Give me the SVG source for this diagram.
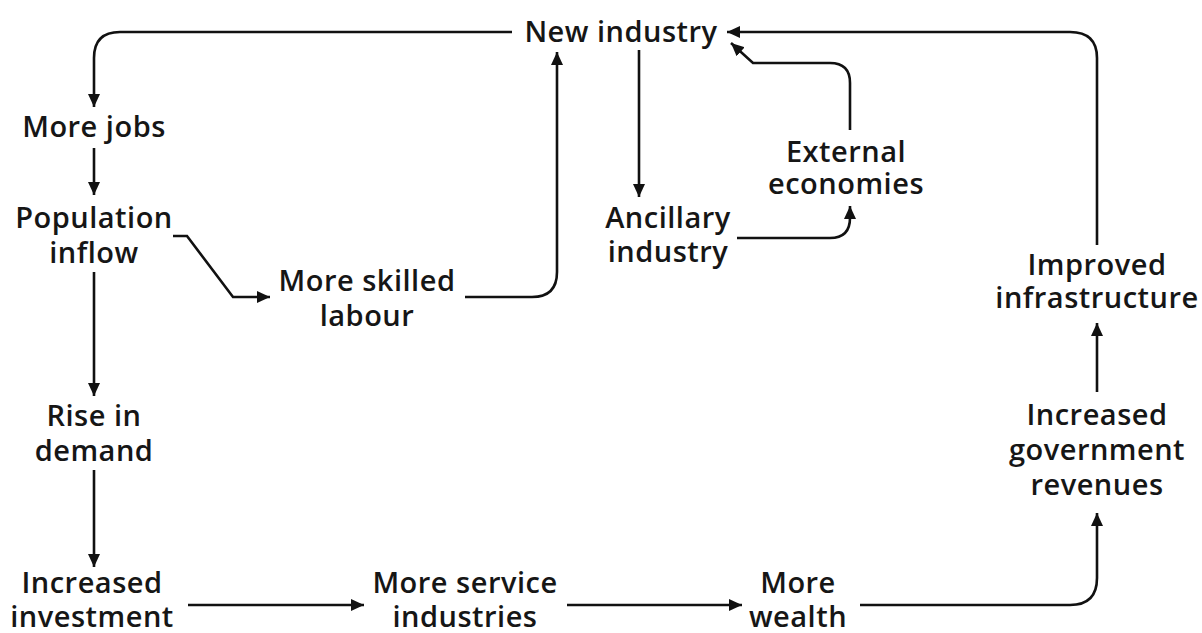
<svg xmlns="http://www.w3.org/2000/svg" width="1202" height="633" viewBox="0 0 1202 633">
<style>
text{font-family:"Open Sans","Noto Sans",sans-serif;font-size:29px;font-weight:600;letter-spacing:0.5px;fill:#161616;text-anchor:middle}
.c{fill:none;stroke:#111;stroke-width:2.6;marker-end:url(#ah)}
</style>
<defs>
<marker id="ah" markerUnits="userSpaceOnUse" markerWidth="14" markerHeight="12" refX="13" refY="6" orient="auto">
<path d="M0,0 L13,6 L0,12 z" fill="#111"/>
</marker>
</defs>
<rect width="1202" height="633" fill="#fff"/>
<g id="connectors">
<path class="c" d="M512,32 H120 Q94,32 94,58 V107"/>
<path class="c" d="M94,148 V195"/>
<path class="c" d="M173,236 H187 L233,297 H270"/>
<path class="c" d="M94,272 V396"/>
<path class="c" d="M94,470 V567"/>
<path class="c" d="M188,605 H364"/>
<path class="c" d="M567,605 H742"/>
<path class="c" d="M860,605 H1070 Q1097,605 1097,578 V513"/>
<path class="c" d="M1097,392 V323"/>
<path class="c" d="M1097,245 V58 Q1097,32 1070,32 H727"/>
<path class="c" d="M465,297 H532 Q557,297 557,272 V52"/>
<path class="c" d="M639,50 V197"/>
<path class="c" d="M737,238 H830 Q850,238 850,218 V206"/>
<path class="c" d="M850,130 V83 Q850,63 830,63 H753 L731,43"/>
</g>
<g id="new-industry"><text x="621" y="42">New industry</text></g>
<g id="more-jobs"><text x="94" y="137">More jobs</text></g>
<g id="population-inflow"><text x="94" y="228">Population</text><text x="94" y="263">inflow</text></g>
<g id="more-skilled-labour"><text x="367" y="291">More skilled</text><text x="367" y="326">labour</text></g>
<g id="rise-in-demand"><text x="94" y="426">Rise in</text><text x="94" y="461">demand</text></g>
<g id="increased-investment"><text x="92" y="593">Increased</text><text x="92" y="627">investment</text></g>
<g id="more-service-industries"><text x="465" y="593">More service</text><text x="465" y="627">industries</text></g>
<g id="more-wealth"><text x="798" y="593">More</text><text x="798" y="627">wealth</text></g>
<g id="increased-government-revenues"><text x="1097" y="425">Increased</text><text x="1097" y="460">government</text><text x="1097" y="495">revenues</text></g>
<g id="improved-infrastructure"><text x="1097" y="275">Improved</text><text x="1097" y="308">infrastructure</text></g>
<g id="external-economies"><text x="846" y="162">External</text><text x="846" y="194">economies</text></g>
<g id="ancillary-industry"><text x="668" y="228">Ancillary</text><text x="668" y="262">industry</text></g>
</svg>
